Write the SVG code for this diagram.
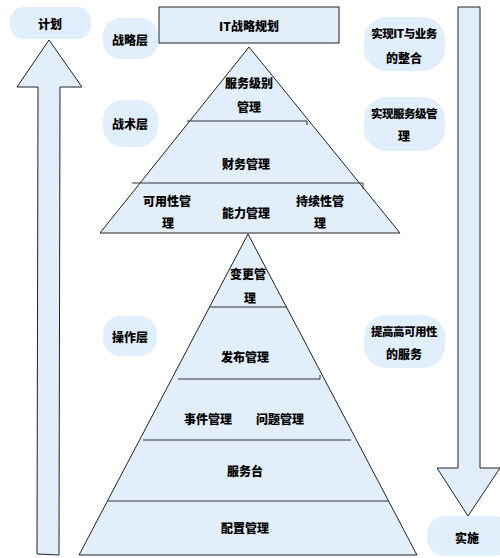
<svg xmlns="http://www.w3.org/2000/svg" width="500" height="558" viewBox="0 0 500 558">
<style>
.shape{fill:#e2effb;stroke:#222;stroke-width:1}
.blob{fill:#e1eefb;stroke:none}
.div{stroke:#333;stroke-width:1;fill:none}
text{font-family:"Noto Sans CJK SC","Noto Sans CJK JP",sans-serif;font-weight:900;font-size:12px;fill:#000;text-anchor:middle;dominant-baseline:central}
.s{font-size:11.5px;letter-spacing:-0.5px}
</style>
<rect width="500" height="558" fill="#fff"/>
<g id="arrows">
<polygon id="up-arrow" class="shape" points="49,40 82,87 60,87 59,555 37,554 38,87 17,87"/>
<polygon id="down-arrow" class="shape" points="458,7 480,7 480,468 500,468 468,516 437,468 458,468"/>
</g>
<g id="plan"><rect class="blob" x="10" y="7" width="81" height="32" rx="14"/><text x="50" y="23">计划</text></g>
<g id="strategy-layer"><rect class="blob" x="103" y="18" width="55" height="41" rx="18"/><text x="130" y="39">战略层</text></g>
<g id="tactic-layer"><rect class="blob" x="103" y="100" width="55" height="47" rx="20"/><text x="130" y="123">战术层</text></g>
<g id="operation-layer"><rect class="blob" x="103" y="316" width="54" height="40" rx="18"/><text x="130" y="336">操作层</text></g>
<g id="goal1"><rect class="blob" x="364" y="17" width="81" height="54" rx="22"/><text class="s" x="404" y="33">实现IT与业务</text><text x="404" y="57">的整合</text></g>
<g id="goal2"><rect class="blob" x="364" y="97" width="81" height="54" rx="22"/><text class="s" x="404" y="113">实现服务级管</text><text x="404" y="135">理</text></g>
<g id="goal3"><rect class="blob" x="364" y="315" width="81" height="53" rx="22"/><text class="s" x="404" y="331">提高高可用性</text><text x="404" y="353">的服务</text></g>
<g id="implement"><rect class="blob" x="427" y="516" width="85" height="40" rx="18"/><text x="467" y="537">实施</text></g>
<g id="it-strategy"><rect class="shape" x="159" y="7" width="180" height="36"/><text x="249" y="25">IT战略规划</text></g>
<g id="top-pyramid">
<polygon class="shape" points="249,47 400,233 100,233"/>
<path class="div" d="M187,121 H307 V125 M132,183 H363 V189"/>
<text x="249" y="82">服务级别</text><text x="249" y="106">管理</text>
<text x="246" y="163">财务管理</text>
<text x="167" y="200">可用性管</text><text x="168" y="222">理</text>
<text x="246" y="212">能力管理</text>
<text x="320" y="200">持续性管</text><text x="320" y="222">理</text>
</g>
<g id="bottom-pyramid">
<polygon class="shape" points="248,234 417,555 79,555"/>
<path class="div" d="M210,307 H287 M178,379 H320 V375 M143,440 H351 M108,501 H389"/>
<text x="248" y="273">变更管</text><text x="250" y="297">理</text>
<text x="245" y="356">发布管理</text>
<text x="208" y="418">事件管理</text>
<text x="280" y="418">问题管理</text>
<text x="245" y="470">服务台</text>
<text x="245" y="527">配置管理</text>
</g>
</svg>
